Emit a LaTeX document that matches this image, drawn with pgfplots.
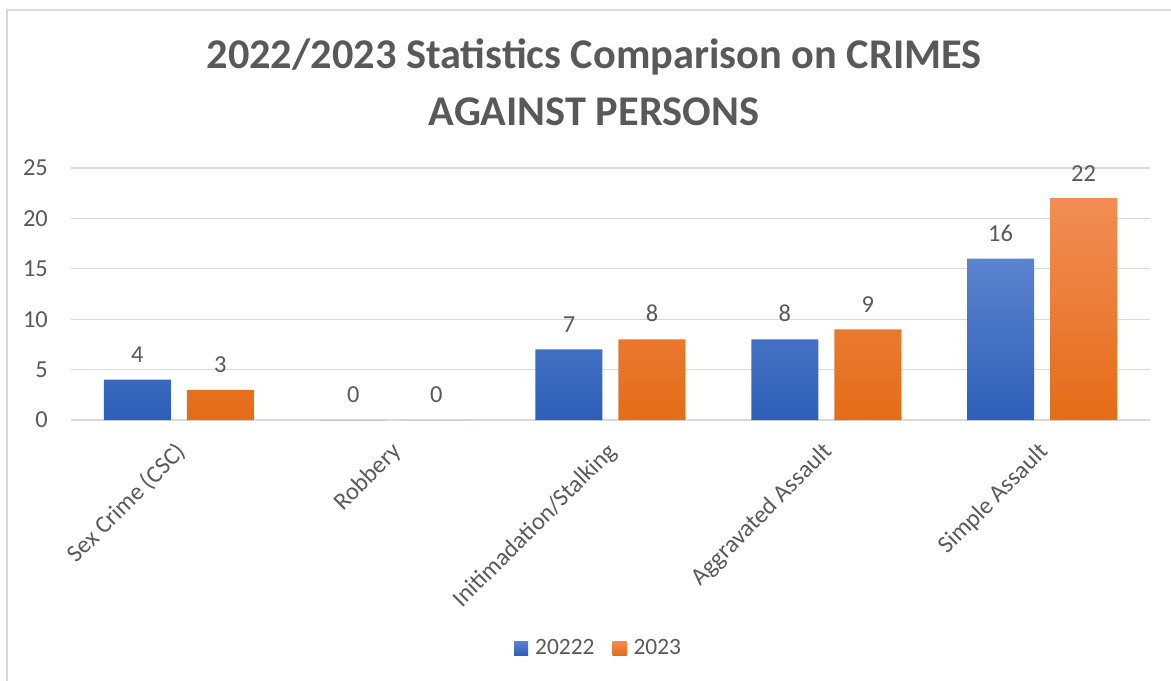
\documentclass[border=0pt]{standalone}
\usepackage{fontspec}
\setmainfont{Carlito}
\usepackage{pgfplots}
\pgfplotsset{compat=1.18}
\definecolor{txt}{HTML}{595959}
\definecolor{gridc}{HTML}{D9D9D9}
\definecolor{btop}{HTML}{5B83CE}
\definecolor{bbot}{HTML}{2E5FB8}
\definecolor{otop}{HTML}{F28D55}
\definecolor{obot}{HTML}{E46C17}
\begin{document}
\begin{tikzpicture}[x=1bp,y=1bp]
\useasboundingbox (0,0) rectangle (1171,-681);
\draw[gridc, line width=2bp] (7,-690) -- (7,-10) -- (1180,-10);
\node[font=\bfseries\fontsize{42.5}{50}\selectfont, text=txt, anchor=base] at (594,-69) {2022/2023 Statistics Comparison on CRIMES};
\node[font=\bfseries\fontsize{42.5}{50}\selectfont, text=txt, anchor=base] at (594,-126) {AGAINST PERSONS};
\coordinate (AX) at (71,-420);
\begin{axis}[
  at={(AX)}, anchor=south west,
  scale only axis, width=1079bp, height=252bp,
  xmin=-0.5, xmax=4.5, ymin=0, ymax=25,
  ybar=16bp, bar width=67bp,
  ytick={0,5,...,25}, xtick={0,...,4},
  xticklabels={Sex Crime (CSC), Robbery, Initimadation/Stalking, Aggravated Assault, Simple Assault},
  ymajorgrids, grid style={draw=gridc, line width=1.3bp},
  axis lines*=left,
  x axis line style={draw=gridc, line width=1.3bp, -},
  y axis line style={draw=none},
  major tick length=0pt,
  tick label style={font=\fontsize{24.5}{29}\selectfont, text=txt},
  /pgf/number format/assume math mode=true,
  yticklabel style={anchor=east, inner sep=0pt, xshift=-23bp},
  xticklabel style={rotate=45, anchor=east, inner sep=0pt, yshift=-22bp, xshift=-18bp},
  nodes near coords,
  every node near coord/.append style={font=\fontsize{24.5}{29}\selectfont, text=txt, anchor=south, inner sep=0pt, yshift=17bp, fill=none, draw=none},
  legend style={at={(0.489,-0.905)}, anchor=center, draw=none, fill=none,
    legend columns=-1, font=\fontsize{23.5}{28}\selectfont, text=txt,
    /tikz/every odd column/.append style={column sep=5bp},
    /tikz/every even column/.append style={column sep=16bp}},
]
\addplot[draw=none, top color=btop, bottom color=bbot,
  legend image code/.code={\path[draw=none, top color=btop, bottom color=bbot] (0bp,-7bp) rectangle (14bp,7bp);}]
  coordinates {(0,4) (1,0) (2,7) (3,8) (4,16)};
\addplot[draw=none, top color=otop, bottom color=obot,
  legend image code/.code={\path[draw=none, top color=otop, bottom color=obot] (0bp,-7bp) rectangle (14bp,7bp);}]
  coordinates {(0,3) (1,0) (2,8) (3,9) (4,22)};
\legend{20222, 2023}
\end{axis}
\end{tikzpicture}
\end{document}
